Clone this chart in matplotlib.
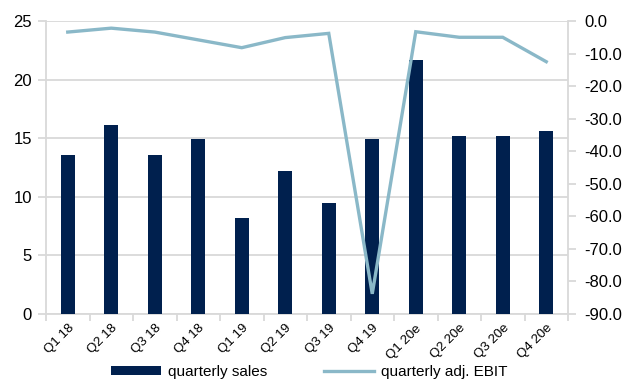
import matplotlib
matplotlib.use("Agg")
import matplotlib.pyplot as plt
import numpy as np

plt.rcParams['font.family'] = ['Liberation Sans', 'DejaVu Sans']

quarters = ["Q1 18", "Q2 18", "Q3 18", "Q4 18", "Q1 19", "Q2 19",
            "Q3 19", "Q4 19", "Q1 20e", "Q2 20e", "Q3 20e", "Q4 20e"]
sales = [13.6, 16.1, 13.6, 14.9, 8.2, 12.2, 9.5, 14.9, 21.7, 15.2, 15.2, 15.6]
adj_ebit = [-3.4, -2.2, -3.4, -5.8, -8.2, -5.1, -3.8, -83.8, -3.3, -5.0, -5.0, -12.5]

bar_color = "#00204e"
line_color = "#8ab8c8"
grid_color = "#d9d9d9"

fig = plt.figure(figsize=(6.29, 3.83), dpi=100)
ax = fig.add_axes([46 / 629, 1 - 314 / 383, (568 - 46) / 629, (314 - 21) / 383])
ax2 = ax.twinx()

x = np.arange(len(quarters))
bars = ax.bar(x, sales, width=0.32, color=bar_color, zorder=3, label="quarterly sales")
line, = ax2.plot(x, adj_ebit, color=line_color, lw=2.4, zorder=4,
                 solid_joinstyle="miter", label="quarterly adj. EBIT")

ax.set_xlim(-0.5, len(quarters) - 0.5)
ax.set_ylim(0, 25)
ax.set_yticks(np.arange(0, 26, 5))
ax2.set_ylim(-90, 0)
ax2.set_yticks(np.arange(-90, 1, 10))
ax2.set_yticklabels([f"{v:.1f}" for v in np.arange(-90, 1, 10)])

ax.yaxis.grid(True, color=grid_color, lw=1.3, zorder=0)
ax.set_axisbelow(True)

# category boundary ticks on x
ax.set_xticks(np.arange(-0.5, len(quarters), 1.0))
ax.set_xticklabels([])
ax.set_xticks(x, minor=True)
ax.set_xticklabels(quarters, minor=True, rotation=45, ha="right",
                   rotation_mode="anchor", fontsize=9.5)
ax.tick_params(axis="x", which="minor", length=0, pad=6)
ax.tick_params(axis="x", which="major", length=5, color=grid_color, width=1.3)
ax.tick_params(axis="y", length=6, color=grid_color, width=1.3, labelsize=12, pad=4)
ax2.tick_params(axis="y", length=6, color=grid_color, width=1.3, labelsize=12, pad=6)

for a in (ax, ax2):
    a.spines["top"].set_visible(False)
    for s in ("left", "right", "bottom"):
        a.spines[s].set_color(grid_color)
        a.spines[s].set_linewidth(1.3)
ax.spines["right"].set_visible(False)
ax2.spines["left"].set_visible(False)
ax2.spines["bottom"].set_visible(False)

fig.legend([bars, line], ["quarterly sales", "quarterly adj. EBIT"],
           loc="center", bbox_to_anchor=(309 / 629, 1 - 372 / 383), ncol=2,
           frameon=False, fontsize=11, handlelength=3.3, handleheight=0.55,
           columnspacing=3.7, handletextpad=0.45)

fig.savefig("out.png", dpi=100)
